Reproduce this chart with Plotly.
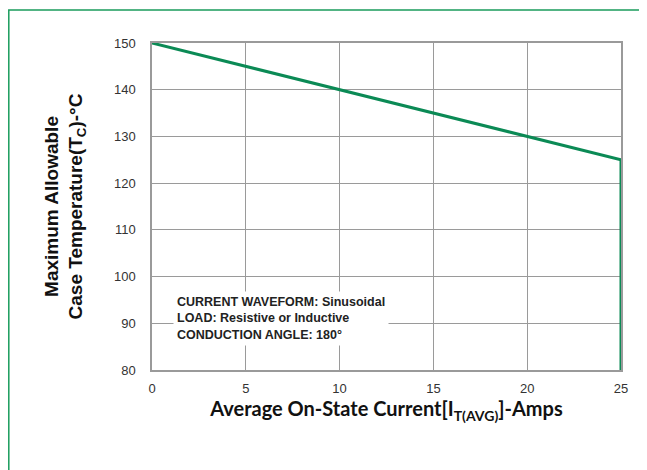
import plotly.graph_objects as go

current = [0, 10, 20, 25, 25]
temperature = [150, 140, 130, 125, 80]
x_ticks = [0, 5, 10, 15, 20, 25]
y_ticks = [80, 90, 100, 110, 120, 130, 140, 150]

GREEN = "#0b8a55"
GRID = "#9a9a9a"

fig = go.Figure()
fig.add_trace(go.Scatter(
    x=current, y=temperature, mode="lines",
    line=dict(color=GREEN, width=3),
    cliponaxis=False, hoverinfo="skip", showlegend=False,
))

OFF = 8  # page body margin
W, H = 639, 462
L, R, T, B = 144, 26, 35, 100
pw, ph = W - L - R, H - T - B

def px_x(p):  # page pixel -> paper
    return (p - OFF - L) / pw

def px_y(p):
    return (H - B - (p - OFF)) / ph

fig.add_shape(type="rect", xref="paper", yref="paper",
              x0=px_x(8.8), x1=px_x(700), y0=px_y(520), y1=px_y(10),
              line=dict(color="#1a9c5c", width=1.5), layer="below")

fig.add_annotation(
    xref="paper", yref="paper", x=px_x(173), y=px_y(318),
    xanchor="left", yanchor="middle", align="left",
    text="CURRENT WAVEFORM: Sinusoidal<br>LOAD: Resistive or Inductive<br>CONDUCTION ANGLE: 180°",
    showarrow=False, bgcolor="white", borderpad=3,
    font=dict(family="Liberation Sans", size=12.5, color="#222222", weight="bold"),
)

fig.update_xaxes(
    range=[0, 25], tickvals=x_ticks, showgrid=True, gridcolor=GRID, gridwidth=1,
    showline=True, linecolor=GRID, linewidth=1.5, mirror=True, zeroline=False,
    ticks="", ticklabelstandoff=6,
    tickfont=dict(family="Liberation Sans", size=13, color="#333333"),
    title=dict(text="Average On-State Current[I<sub>T(AVG)</sub>]-Amps",
               font=dict(family="Lato", size=20, color="#111111", weight="bold"),
               standoff=5),
)
fig.update_yaxes(
    range=[80, 150], tickvals=y_ticks, showgrid=True, gridcolor=GRID, gridwidth=1,
    showline=True, linecolor=GRID, linewidth=1.5, mirror=True, zeroline=False,
    ticks="", ticklabelstandoff=12,
    tickfont=dict(family="Liberation Sans", size=13, color="#333333"),
    title=dict(text="Maximum Allowable<br>Case Temperature(T<sub>C</sub>)-°C",
               font=dict(family="Liberation Sans", size=19, color="#111111", weight="bold"),
               standoff=26),
)

fig.update_layout(
    width=W, height=H,
    margin=dict(l=L, r=R, t=T, b=B),
    paper_bgcolor="white", plot_bgcolor="white",
)

fig.write_html("out.html")
